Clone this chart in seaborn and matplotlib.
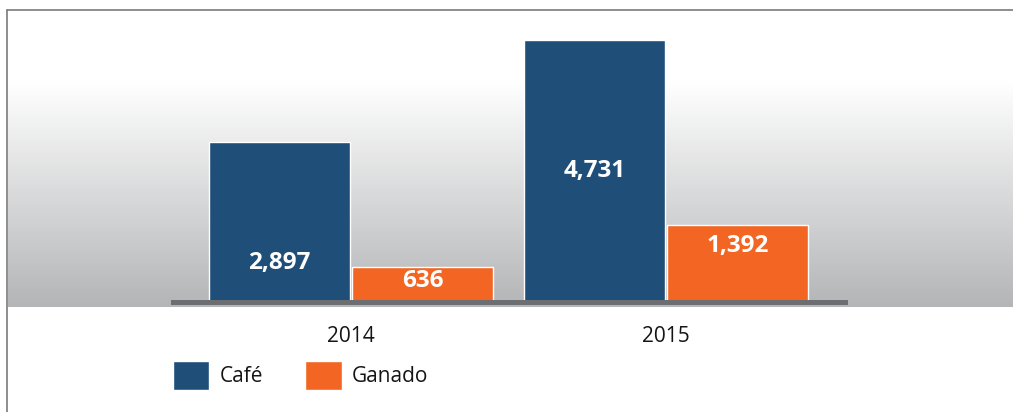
import numpy as np
import pandas as pd
import seaborn as sns
import matplotlib.pyplot as plt
from matplotlib.colors import LinearSegmentedColormap

years = ["2014", "2015"]
products = ["Café", "Ganado"]
cafe = [2897, 4731]
ganado = [636, 1392]
colors = ["#1f4e79", "#f36523"]

# where each value label sits, as a fraction of its bar height
label_frac = [[0.24, 0.50], [0.61, 0.72]]

df = pd.DataFrame({
    "year": years * 2,
    "product": [products[0]] * 2 + [products[1]] * 2,
    "value": cafe + ganado,
})

sns.set_theme(style="white")
plt.rcParams["font.family"] = ["Open Sans", "DejaVu Sans"]

W, H = 1013, 412
fig = plt.figure(figsize=(W / 100, H / 100), dpi=100)

# background: gradient band + frame lines
bg = fig.add_axes([0, 0, 1, 1])
bg.set_xlim(0, W)
bg.set_ylim(H, 0)
bg.axis("off")
grad = np.linspace(0, 1, 256).reshape(-1, 1)
cmap = LinearSegmentedColormap.from_list("bg", ["#ffffff", "#b4b5b7"])
bg.imshow(grad, cmap=cmap, aspect="auto", extent=(8, W, 307, 82), zorder=0)
bg.plot([7, 7], [10, H], color="#7a7a7a", lw=1.2, zorder=1)
bg.plot([7, W + 5], [10, 10], color="#7a7a7a", lw=1.2, zorder=1)

ax = fig.add_axes([173 / W, 110 / H, 672 / W, 292 / H])
ax.patch.set_alpha(0)
sns.barplot(data=df, x="year", y="value", hue="product", palette=colors,
            width=0.91, gap=0.02, saturation=1, ax=ax)

ax.set_xlim(-0.565, 1.568)
ax.set_ylim(0, 5273)
for s in ["top", "left", "right"]:
    ax.spines[s].set_visible(False)
ax.spines["bottom"].set_color("#6d6e71")
ax.spines["bottom"].set_linewidth(3.6)
ax.set_yticks([])
ax.set_xlabel("")
ax.set_ylabel("")
ax.tick_params(axis="x", length=0, labelsize=15, pad=17, labelcolor="#151515")

for i, cont in enumerate(ax.containers):
    for j, bar in enumerate(cont):
        v = bar.get_height()
        ax.text(bar.get_x() + bar.get_width() / 2, v * label_frac[i][j],
                f"{int(v):,}", ha="center", va="center", color="white",
                fontsize=17.5, fontweight="bold")

sns.move_legend(ax, "upper left", bbox_to_anchor=(173 / W, 1 - 361 / H),
                bbox_transform=fig.transFigure, ncol=2, frameon=False,
                title=None, fontsize=15, handlelength=1.75, handleheight=1.75,
                handletextpad=0.5, columnspacing=2.0, borderpad=0,
                borderaxespad=0)
for t in ax.get_legend().get_texts():
    t.set_color("#151515")

fig.savefig("out.png", dpi=100)
